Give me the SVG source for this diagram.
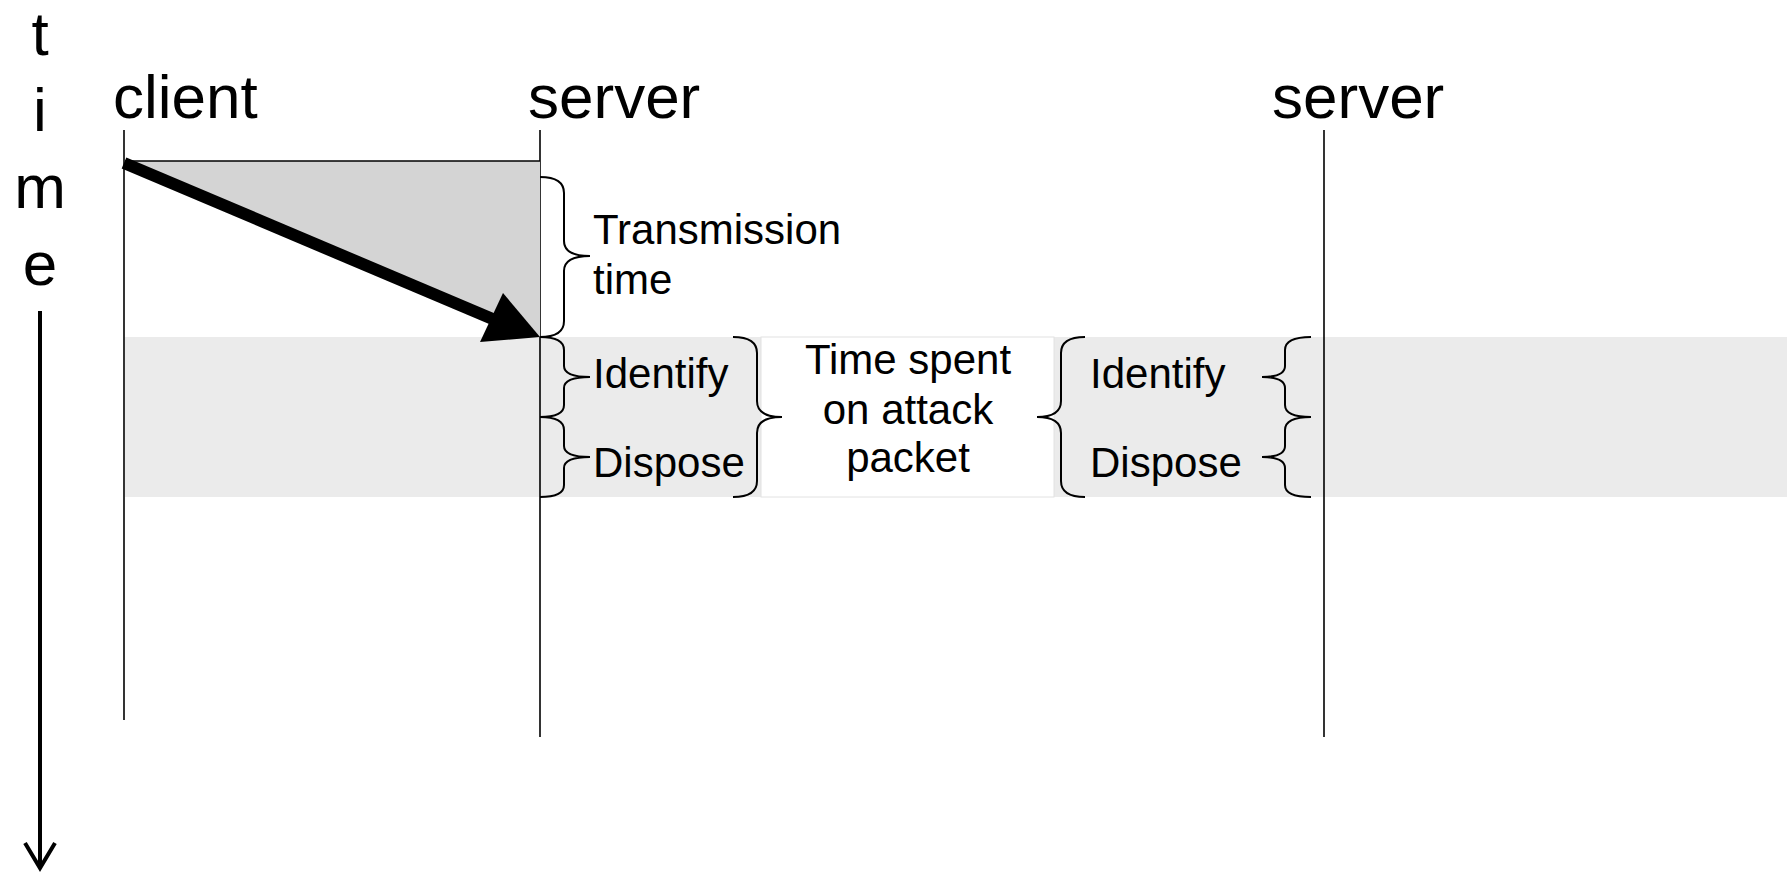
<svg xmlns="http://www.w3.org/2000/svg" width="1787" height="872" viewBox="0 0 1787 872">
  <style>
    .big { font-family: "Liberation Sans", Arial, sans-serif; font-size: 62px; fill: #000; }
    .lbl { font-family: "Liberation Sans", Arial, sans-serif; font-size: 42px; fill: #000; }
    .life { stroke: #000; stroke-width: 1.6; fill: none; }
    .brace { stroke: #000; stroke-width: 2; fill: none; }
  </style>

  <!-- processing band behind the server timelines -->
  <g id="band">
    <rect x="125" y="337" width="1662" height="160" fill="#ebebeb"/>
    <rect x="761" y="337" width="293" height="160" fill="#fff" stroke="#e2e2e2" stroke-width="1"/>
  </g>

  <!-- time axis -->
  <g id="time-axis">
    <text class="big" x="40" y="55" text-anchor="middle">t</text>
    <text class="big" x="40" y="131" text-anchor="middle">i</text>
    <text class="big" x="40" y="208" text-anchor="middle">m</text>
    <text class="big" x="40" y="285" text-anchor="middle">e</text>
    <line x1="40" y1="311" x2="40" y2="866" stroke="#000" stroke-width="4"/>
    <path d="M 25 843 L 40 868 L 55 843" fill="none" stroke="#000" stroke-width="4"/>
  </g>

  <!-- participants -->
  <g id="client">
    <text class="big" x="113" y="118">client</text>
    <line class="life" x1="124" y1="130" x2="124" y2="720"/>
  </g>
  <g id="server-a">
    <text class="big" x="528" y="118">server</text>
    <line class="life" x1="540" y1="130" x2="540" y2="737"/>
  </g>
  <g id="server-b">
    <text class="big" x="1272" y="118">server</text>
    <line class="life" x1="1324" y1="130" x2="1324" y2="737"/>
  </g>

  <!-- packet transmission -->
  <g id="connectors">
    <polygon points="125,161 540,161 540,337" fill="#d4d4d4"/>
    <line x1="125" y1="161" x2="540" y2="161" stroke="#000" stroke-width="1.6"/>
    <line x1="124" y1="163" x2="495" y2="320" stroke="#000" stroke-width="12"/>
    <polygon points="540,337 480,342 503,293" fill="#000"/>
  </g>

  <!-- transmission time -->
  <g id="transmission">
    <path class="brace" d="M 540 177 Q 564 177 564 193 L 564 241 Q 564 256 590 256 Q 564 256 564 271 L 564 321 Q 564 337 540 337"/>
    <text class="lbl" x="593" y="244">Transmission</text>
    <text class="lbl" x="593" y="294">time</text>
  </g>

  <!-- identify / dispose at first server -->
  <g id="steps-a">
    <path class="brace" d="M 540 337 Q 564 337 564 350 L 564 366 Q 564 377 590 377 Q 564 377 564 388 L 564 405 Q 564 417 540 417"/>
    <path class="brace" d="M 540 417 Q 564 417 564 430 L 564 446 Q 564 457 590 457 Q 564 457 564 468 L 564 485 Q 564 497 540 497"/>
    <text class="lbl" x="593" y="388">Identify</text>
    <text class="lbl" x="593" y="477">Dispose</text>
    <path class="brace" d="M 733 337 Q 757 337 757 353 L 757 401 Q 757 417 782 417 Q 757 417 757 433 L 757 481 Q 757 497 733 497"/>
  </g>

  <!-- total time spent -->
  <g id="attack-time">
    <text class="lbl" x="908" y="374" text-anchor="middle">Time spent</text>
    <text class="lbl" x="908" y="424" text-anchor="middle">on attack</text>
    <text class="lbl" x="908" y="472" text-anchor="middle">packet</text>
  </g>

  <!-- identify / dispose at second server -->
  <g id="steps-b">
    <path class="brace" d="M 1085 337 Q 1061 337 1061 353 L 1061 401 Q 1061 417 1037 417 Q 1061 417 1061 433 L 1061 481 Q 1061 497 1085 497"/>
    <text class="lbl" x="1090" y="388">Identify</text>
    <text class="lbl" x="1090" y="477">Dispose</text>
    <path class="brace" d="M 1311 337 Q 1285 337 1285 350 L 1285 366 Q 1285 377 1262 377 Q 1285 377 1285 388 L 1285 405 Q 1285 417 1311 417"/>
    <path class="brace" d="M 1311 417 Q 1285 417 1285 430 L 1285 446 Q 1285 457 1262 457 Q 1285 457 1285 468 L 1285 485 Q 1285 497 1311 497"/>
  </g>
</svg>
